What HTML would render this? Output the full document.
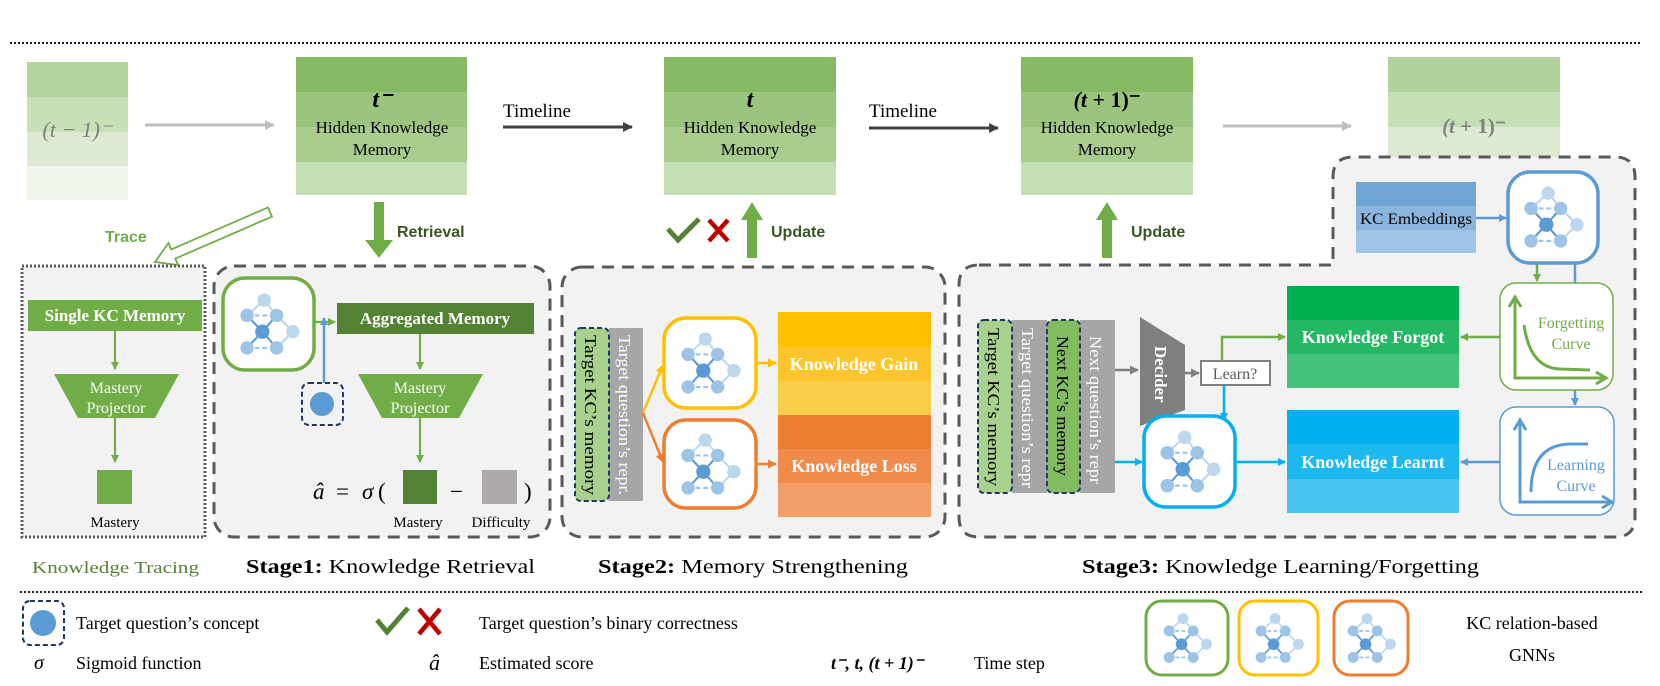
<!DOCTYPE html>
<html><head><meta charset="utf-8"><style>
html,body{margin:0;padding:0;background:#fff;}
svg{display:block;}
text{font-family:"Liberation Serif",serif;}
.sans{font-family:"Liberation Sans",sans-serif;font-weight:bold;}
</style></head><body>
<svg width="1660" height="686" viewBox="0 0 1660 686" xmlns="http://www.w3.org/2000/svg">
<defs>
<marker id="mg" markerWidth="8" markerHeight="8" refX="7" refY="4" orient="auto" markerUnits="userSpaceOnUse"><path d="M0,0 L8,4 L0,8 Z" fill="#70ad47"/></marker>
<marker id="mb" markerWidth="8" markerHeight="8" refX="7" refY="4" orient="auto" markerUnits="userSpaceOnUse"><path d="M0,0 L8,4 L0,8 Z" fill="#5b9bd5"/></marker>
<marker id="mc" markerWidth="8" markerHeight="8" refX="7" refY="4" orient="auto" markerUnits="userSpaceOnUse"><path d="M0,0 L8,4 L0,8 Z" fill="#00b0f0"/></marker>
<marker id="my" markerWidth="9" markerHeight="9" refX="8" refY="4.5" orient="auto" markerUnits="userSpaceOnUse"><path d="M0,0 L9,4.5 L0,9 Z" fill="#ffc000"/></marker>
<marker id="mo" markerWidth="9" markerHeight="9" refX="8" refY="4.5" orient="auto" markerUnits="userSpaceOnUse"><path d="M0,0 L9,4.5 L0,9 Z" fill="#ed7d31"/></marker>
<marker id="md" markerWidth="10" markerHeight="10" refX="9" refY="5" orient="auto" markerUnits="userSpaceOnUse"><path d="M0,0 L10,5 L0,10 Z" fill="#404040"/></marker>
<marker id="ml" markerWidth="10" markerHeight="10" refX="9" refY="5" orient="auto" markerUnits="userSpaceOnUse"><path d="M0,0 L10,5 L0,10 Z" fill="#bfbfbf"/></marker>
<marker id="mgr" markerWidth="9" markerHeight="9" refX="8" refY="4.5" orient="auto" markerUnits="userSpaceOnUse"><path d="M0,0 L9,4.5 L0,9 Z" fill="#7f7f7f"/></marker>
<symbol id="g" viewBox="0 0 90 90">
<g stroke-width="2.2">
<line x1="40" y1="20" x2="22" y2="36" stroke="#bdd7ee"/>
<line x1="40" y1="20" x2="53" y2="36" stroke="#bdd7ee"/>
<line x1="53" y1="36" x2="70" y2="53" stroke="#bdd7ee"/>
<line x1="70" y1="53" x2="53" y2="70" stroke="#bdd7ee"/>
<line x1="22" y1="36" x2="53" y2="36" stroke="#9dc3e6" stroke-dasharray="5 3"/>
<line x1="22" y1="70" x2="53" y2="70" stroke="#9dc3e6" stroke-dasharray="5 3"/>
<line x1="22" y1="36" x2="38" y2="53" stroke="#5b9bd5"/>
<line x1="53" y1="36" x2="38" y2="53" stroke="#5b9bd5"/>
<line x1="22" y1="70" x2="38" y2="53" stroke="#5b9bd5"/>
<line x1="53" y1="70" x2="38" y2="53" stroke="#5b9bd5"/>
</g>
<circle cx="40" cy="20" r="7" fill="#bdd7ee"/>
<circle cx="70" cy="53" r="7" fill="#bdd7ee"/>
<circle cx="22" cy="36" r="7" fill="#9dc3e6"/>
<circle cx="53" cy="36" r="7" fill="#9dc3e6"/>
<circle cx="22" cy="70" r="7" fill="#9dc3e6"/>
<circle cx="53" cy="70" r="7" fill="#9dc3e6"/>
<circle cx="38" cy="53" r="7.5" fill="#5b9bd5"/>
</symbol>
</defs>

<!-- dotted lines -->
<line x1="10" y1="43" x2="1640" y2="43" stroke="#222" stroke-width="2" stroke-dasharray="2 2"/>
<line x1="20" y1="592" x2="1643" y2="592" stroke="#222" stroke-width="2" stroke-dasharray="2 2"/>

<!-- top row -->
<rect x="27" y="62" width="101" height="35" fill="#b2d39c"/>
<rect x="27" y="97" width="101" height="35" fill="#c8e0b7"/>
<rect x="27" y="132" width="101" height="34" fill="#dde9d3"/>
<rect x="27" y="166" width="101" height="34" fill="#f0f6eb"/>
<text x="77" y="137" font-size="22" fill="#808080" text-anchor="middle" font-style="italic">(t − 1)⁻</text>
<line x1="145" y1="125" x2="274" y2="125" stroke="#bfbfbf" stroke-width="3" marker-end="url(#ml)"/>

<g>
<rect x="296" y="57" width="171" height="35" fill="#86b963"/>
<rect x="296" y="92" width="171" height="35" fill="#9bc57e"/>
<rect x="296" y="127" width="171" height="35" fill="#a9cd8f"/>
<rect x="296" y="162" width="171" height="33" fill="#c5dfb5"/>
<text x="382" y="107" font-size="24" font-weight="bold" font-style="italic" text-anchor="middle">t⁻</text>
<text x="382" y="133" font-size="17" text-anchor="middle">Hidden Knowledge</text>
<text x="382" y="155" font-size="17" text-anchor="middle">Memory</text>
</g>
<line x1="503" y1="127" x2="632" y2="127" stroke="#404040" stroke-width="3" marker-end="url(#md)"/>
<text x="503" y="117" font-size="19">Timeline</text>

<g>
<rect x="664" y="57" width="172" height="35" fill="#86b963"/>
<rect x="664" y="92" width="172" height="35" fill="#9bc57e"/>
<rect x="664" y="127" width="172" height="35" fill="#a9cd8f"/>
<rect x="664" y="162" width="172" height="33" fill="#c5dfb5"/>
<text x="750" y="107" font-size="24" font-weight="bold" font-style="italic" text-anchor="middle">t</text>
<text x="750" y="133" font-size="17" text-anchor="middle">Hidden Knowledge</text>
<text x="750" y="155" font-size="17" text-anchor="middle">Memory</text>
</g>
<line x1="869" y1="128" x2="998" y2="128" stroke="#404040" stroke-width="3" marker-end="url(#md)"/>
<text x="869" y="117" font-size="19">Timeline</text>

<g>
<rect x="1021" y="57" width="172" height="35" fill="#86b963"/>
<rect x="1021" y="92" width="172" height="35" fill="#9bc57e"/>
<rect x="1021" y="127" width="172" height="35" fill="#a9cd8f"/>
<rect x="1021" y="162" width="172" height="33" fill="#c5dfb5"/>
<text x="1107" y="107" font-size="22" font-weight="bold" text-anchor="middle"><tspan font-style="italic">(t</tspan> + 1)⁻</text>
<text x="1107" y="133" font-size="17" text-anchor="middle">Hidden Knowledge</text>
<text x="1107" y="155" font-size="17" text-anchor="middle">Memory</text>
</g>
<line x1="1223" y1="126" x2="1351" y2="126" stroke="#bfbfbf" stroke-width="3" marker-end="url(#ml)"/>
<rect x="1388" y="57" width="172" height="35" fill="#b1d29b"/>
<rect x="1388" y="92" width="172" height="35" fill="#c5dfb6"/>
<rect x="1388" y="127" width="172" height="35" fill="#dde9d2"/>
<text x="1474" y="133" font-size="21" font-weight="bold" fill="#808080" text-anchor="middle"><tspan font-style="italic">(t</tspan> + 1)⁻</text>

<!-- trace arrow -->
<polygon points="272,216.6 175.3,258.6 178.1,265 155,262 168.5,243 171.3,249.4 268,207.4" fill="#fff" stroke="#70ad47" stroke-width="1.8"/>
<text x="105" y="242" class="sans" font-size="16" fill="#70ad47">Trace</text>

<!-- retrieval arrow -->
<polygon points="374,202 384,202 384,240 393,240 379,258 365,240 374,240" fill="#70ad47"/>
<text x="397" y="237" class="sans" font-size="16" fill="#375623">Retrieval</text>

<!-- update 1 -->
<polygon points="747,258 757,258 757,220 763,220 752,202 741,220 747,220" fill="#70ad47"/>
<text x="771" y="237" class="sans" font-size="16" fill="#375623">Update</text>
<path d="M668,229 L678,240 L699,219" fill="none" stroke="#548235" stroke-width="5"/>
<path d="M709,220 L728,241 M728,220 L709,241" stroke="#c00000" stroke-width="4.5"/>

<!-- update 2 -->
<polygon points="1102,258 1112,258 1112,220 1118,220 1107,202 1096,220 1102,220" fill="#70ad47"/>
<text x="1131" y="237" class="sans" font-size="16" fill="#375623">Update</text>

<!-- KT box -->
<rect x="22" y="266" width="183" height="271" fill="#f2f2f2" stroke="#595959" stroke-width="3" stroke-dasharray="2 2"/>
<rect x="28" y="300" width="174" height="31" fill="#70ad47"/>
<text x="115" y="321" font-size="17" font-weight="bold" fill="#fff" text-anchor="middle">Single KC Memory</text>
<line x1="115" y1="331" x2="115" y2="369" stroke="#70ad47" stroke-width="2.2" marker-end="url(#mg)"/>
<polygon points="54,374 179,374 155,418 78,418" fill="#70ad47"/>
<text x="116" y="393" font-size="16" fill="#fff" text-anchor="middle">Mastery</text>
<text x="116" y="413" font-size="16" fill="#fff" text-anchor="middle">Projector</text>
<line x1="115" y1="418" x2="115" y2="462" stroke="#70ad47" stroke-width="2.2" marker-end="url(#mg)"/>
<rect x="97" y="470" width="35" height="34" fill="#70ad47"/>
<text x="115" y="527" font-size="15" text-anchor="middle">Mastery</text>
<text x="32" y="573" font-size="17" fill="#548235" textLength="167" lengthAdjust="spacingAndGlyphs">Knowledge Tracing</text>

<!-- Stage1 -->
<rect x="214" y="266" width="336" height="271" rx="20" fill="#f2f2f2" stroke="#595959" stroke-width="3" stroke-dasharray="12 8"/>
<rect x="223" y="278" width="91" height="92" rx="22" fill="#fff" stroke="#70ad47" stroke-width="3.5"/>
<use href="#g" x="226" y="280" width="86" height="88"/>
<line x1="314" y1="322" x2="335" y2="322" stroke="#70ad47" stroke-width="2.2" marker-end="url(#mg)"/>
<rect x="337" y="303" width="197" height="31" fill="#548235"/>
<text x="435" y="324" font-size="17" font-weight="bold" fill="#fff" text-anchor="middle">Aggregated Memory</text>
<line x1="324" y1="383" x2="324" y2="318" stroke="#5b9bd5" stroke-width="2.5" marker-end="url(#mb)"/>
<rect x="302" y="383" width="41" height="42" rx="7" fill="#f2f2f2" stroke="#1f3864" stroke-width="2" stroke-dasharray="5 3"/>
<circle cx="322" cy="404" r="12" fill="#5b9bd5"/>
<line x1="420" y1="334" x2="420" y2="369" stroke="#70ad47" stroke-width="2.2" marker-end="url(#mg)"/>
<polygon points="358,374 483,374 459,418 382,418" fill="#70ad47"/>
<text x="420" y="393" font-size="16" fill="#fff" text-anchor="middle">Mastery</text>
<text x="420" y="413" font-size="16" fill="#fff" text-anchor="middle">Projector</text>
<line x1="420" y1="418" x2="420" y2="462" stroke="#70ad47" stroke-width="2.2" marker-end="url(#mg)"/>
<text x="313" y="499" font-size="23" font-style="italic">â</text>
<text x="336" y="499" font-size="23">=</text>
<text x="362" y="499" font-size="23" font-style="italic">σ</text>
<text x="378" y="499" font-size="23">(</text>
<rect x="403" y="470" width="34" height="34" fill="#548235"/>
<text x="450" y="499" font-size="23">−</text>
<rect x="482" y="470" width="35" height="34" fill="#aeaaaa"/>
<text x="524" y="499" font-size="23">)</text>
<text x="418" y="527" font-size="15" text-anchor="middle">Mastery</text>
<text x="501" y="527" font-size="15" text-anchor="middle">Difficulty</text>
<text x="246" y="573" font-size="20" textLength="289" lengthAdjust="spacingAndGlyphs"><tspan font-weight="bold">Stage1:</tspan> Knowledge Retrieval</text>

<!-- Stage2 -->
<rect x="562" y="267" width="383" height="270" rx="20" fill="#f2f2f2" stroke="#595959" stroke-width="3" stroke-dasharray="12 8"/>
<rect x="609" y="328" width="34" height="173" fill="#a6a6a6"/>
<rect x="575" y="328" width="34" height="173" rx="6" fill="#a9d18e" stroke="#1f3864" stroke-width="2" stroke-dasharray="5 3"/>
<text transform="translate(585,335) rotate(90)" font-size="17" textLength="160" lengthAdjust="spacingAndGlyphs">Target KC’s memory</text>
<text transform="translate(619,335) rotate(90)" font-size="17" fill="#fff" textLength="160" lengthAdjust="spacingAndGlyphs">Target question’s repr.</text>
<line x1="643" y1="413" x2="663" y2="365" stroke="#ffc000" stroke-width="2.5" marker-end="url(#my)"/>
<line x1="643" y1="413" x2="663" y2="462" stroke="#ed7d31" stroke-width="2.5" marker-end="url(#mo)"/>
<rect x="664" y="318" width="92" height="90" rx="22" fill="#fff" stroke="#ffc000" stroke-width="3.5"/>
<use href="#g" x="667" y="320" width="86" height="86"/>
<rect x="664" y="420" width="92" height="88" rx="22" fill="#fff" stroke="#ed7d31" stroke-width="3.5"/>
<use href="#g" x="667" y="421" width="86" height="86"/>
<line x1="756" y1="363" x2="776" y2="363" stroke="#ffc000" stroke-width="2.5" marker-end="url(#my)"/>
<line x1="756" y1="464" x2="776" y2="464" stroke="#ed7d31" stroke-width="2.5" marker-end="url(#mo)"/>
<rect x="778" y="312" width="153" height="35" fill="#ffc000"/>
<rect x="778" y="347" width="153" height="34" fill="#fcc52c"/>
<rect x="778" y="381" width="153" height="34" fill="#f9ce4a"/>
<rect x="778" y="415" width="153" height="34" fill="#ed7d31"/>
<rect x="778" y="449" width="153" height="34" fill="#ef8c4c"/>
<rect x="778" y="483" width="153" height="34" fill="#f0a068"/>
<text x="854" y="370" font-size="18" font-weight="bold" fill="#fff" text-anchor="middle">Knowledge Gain</text>
<text x="854" y="472" font-size="18" font-weight="bold" fill="#fff" text-anchor="middle">Knowledge Loss</text>
<text x="598" y="573" font-size="20" textLength="310" lengthAdjust="spacingAndGlyphs"><tspan font-weight="bold">Stage2:</tspan> Memory Strengthening</text>

<!-- Stage3 -->
<path d="M979,265 L1333,265 L1333,177 Q1333,157 1353,157 L1615,157 Q1635,157 1635,177 L1635,517 Q1635,537 1615,537 L979,537 Q959,537 959,517 L959,285 Q959,265 979,265 Z" fill="#f2f2f2" stroke="#595959" stroke-width="3" stroke-dasharray="12 8"/>
<rect x="1356" y="182" width="120" height="24" fill="#70a6d6"/>
<rect x="1356" y="206" width="120" height="24" fill="#8ab5df"/>
<rect x="1356" y="230" width="120" height="23" fill="#9dc3e6"/>
<text x="1416" y="224" font-size="16" text-anchor="middle" textLength="112" lengthAdjust="spacingAndGlyphs">KC Embeddings</text>
<line x1="1476" y1="218" x2="1506" y2="218" stroke="#5b9bd5" stroke-width="2.5" marker-end="url(#mb)"/>
<line x1="1575" y1="263" x2="1575" y2="405" stroke="#5b9bd5" stroke-width="2.5" marker-end="url(#mb)"/>
<line x1="1537" y1="263" x2="1537" y2="281" stroke="#70ad47" stroke-width="2.5" marker-end="url(#mg)"/>
<rect x="1508" y="172" width="90" height="91" rx="22" fill="#fff" stroke="#5b9bd5" stroke-width="3.5"/>
<use href="#g" x="1510" y="174" width="86" height="86"/>

<rect x="1500" y="283" width="113" height="107" rx="16" fill="#fff" stroke="#70ad47" stroke-width="1.5"/>
<path d="M1515,298 L1515,378 L1604,378" fill="none" stroke="#70ad47" stroke-width="3"/>
<path d="M1509,307 L1515,297 L1521,307 M1596,372 L1606,378 L1596,384" fill="none" stroke="#70ad47" stroke-width="3"/>
<path d="M1524,325 Q1530,368 1560,369 L1590,370" fill="none" stroke="#70ad47" stroke-width="3"/>
<text x="1571" y="328" font-size="16" fill="#70ad47" text-anchor="middle">Forgetting</text>
<text x="1571" y="349" font-size="16" fill="#70ad47" text-anchor="middle">Curve</text>

<rect x="1500" y="407" width="114" height="108" rx="16" fill="#fff" stroke="#5b9bd5" stroke-width="1.5"/>
<path d="M1520,420 L1520,502 L1610,502" fill="none" stroke="#5b9bd5" stroke-width="3"/>
<path d="M1514,430 L1520,420 L1526,430 M1602,496 L1612,502 L1602,508" fill="none" stroke="#5b9bd5" stroke-width="3"/>
<path d="M1531,492 Q1531,445 1570,444 L1588,444" fill="none" stroke="#5b9bd5" stroke-width="3"/>
<text x="1576" y="470" font-size="16" fill="#5b9bd5" text-anchor="middle">Learning</text>
<text x="1576" y="491" font-size="16" fill="#5b9bd5" text-anchor="middle">Curve</text>

<line x1="1500" y1="337" x2="1461" y2="337" stroke="#70ad47" stroke-width="2.5" marker-end="url(#mg)"/>
<line x1="1500" y1="462" x2="1461" y2="462" stroke="#5b9bd5" stroke-width="2.5" marker-end="url(#mb)"/>

<rect x="1287" y="286" width="172" height="34" fill="#00b050"/>
<rect x="1287" y="320" width="172" height="34" fill="#24b865"/>
<rect x="1287" y="354" width="172" height="34" fill="#47c27d"/>
<text x="1373" y="343" font-size="18" font-weight="bold" fill="#fff" text-anchor="middle">Knowledge Forgot</text>
<rect x="1287" y="410" width="172" height="34" fill="#00b0f0"/>
<rect x="1287" y="444" width="172" height="35" fill="#1db8ef"/>
<rect x="1287" y="479" width="172" height="34" fill="#46c3ef"/>
<text x="1373" y="468" font-size="18" font-weight="bold" fill="#fff" text-anchor="middle">Knowledge Learnt</text>

<rect x="1012" y="320" width="35" height="173" fill="#a6a6a6"/>
<rect x="1080" y="320" width="35" height="173" fill="#a6a6a6"/>
<rect x="978" y="320" width="34" height="173" rx="6" fill="#a9d18e" stroke="#1f3864" stroke-width="2" stroke-dasharray="5 3"/>
<rect x="1047" y="320" width="33" height="173" rx="6" fill="#83bb63" stroke="#1f3864" stroke-width="2" stroke-dasharray="5 3"/>
<text transform="translate(988,328) rotate(90)" font-size="17" textLength="158" lengthAdjust="spacingAndGlyphs">Target KC’s memory</text>
<text transform="translate(1022,328) rotate(90)" font-size="17" fill="#fff" textLength="160" lengthAdjust="spacingAndGlyphs">Target question’s repr</text>
<text transform="translate(1057,336) rotate(90)" font-size="17" textLength="140" lengthAdjust="spacingAndGlyphs">Next KC’s memory</text>
<text transform="translate(1090,336) rotate(90)" font-size="17" fill="#fff" textLength="148" lengthAdjust="spacingAndGlyphs">Next question’s repr</text>

<line x1="1115" y1="370" x2="1138" y2="370" stroke="#7f7f7f" stroke-width="2.5" marker-end="url(#mgr)"/>
<polygon points="1140,317 1185,345 1185,410 1140,426" fill="#7f7f7f"/>
<text transform="translate(1155,346) rotate(90)" font-size="17" font-weight="bold" fill="#fff">Decider</text>
<line x1="1185" y1="373" x2="1199" y2="373" stroke="#7f7f7f" stroke-width="2.5" marker-end="url(#mgr)"/>
<rect x="1201" y="361" width="69" height="24" fill="#fff" stroke="#7f7f7f" stroke-width="2"/>
<text x="1235" y="379" font-size="16" fill="#595959" text-anchor="middle">Learn?</text>
<path d="M1222,361 L1222,337 L1285,337" fill="none" stroke="#70ad47" stroke-width="2.5" marker-end="url(#mg)"/>
<line x1="1224" y1="385" x2="1224" y2="420" stroke="#00b0f0" stroke-width="2.5" marker-end="url(#mc)"/>
<line x1="1115" y1="462" x2="1142" y2="462" stroke="#00b0f0" stroke-width="2.5" marker-end="url(#mc)"/>
<rect x="1144" y="416" width="91" height="91" rx="22" fill="#fff" stroke="#00b0f0" stroke-width="3.5"/>
<use href="#g" x="1146" y="418" width="87" height="87"/>
<line x1="1235" y1="462" x2="1285" y2="462" stroke="#00b0f0" stroke-width="2.5" marker-end="url(#mc)"/>
<text x="1082" y="573" font-size="20" textLength="397" lengthAdjust="spacingAndGlyphs"><tspan font-weight="bold">Stage3:</tspan> Knowledge Learning/Forgetting</text>

<!-- legend -->
<rect x="23" y="601" width="41" height="44" rx="7" fill="#fff" stroke="#1f3864" stroke-width="2" stroke-dasharray="5 3"/>
<circle cx="43" cy="623" r="13" fill="#5b9bd5"/>
<text x="76" y="629" font-size="18">Target question’s concept</text>
<text x="34" y="669" font-size="20" font-style="italic">σ</text>
<text x="76" y="669" font-size="18">Sigmoid function</text>
<path d="M377,620 L387,632 L408,608" fill="none" stroke="#548235" stroke-width="5"/>
<path d="M419,609 L440,634 M440,609 L419,634" stroke="#c00000" stroke-width="4.5"/>
<text x="479" y="629" font-size="18">Target question’s binary correctness</text>
<text x="429" y="670" font-size="22" font-style="italic">â</text>
<text x="479" y="669" font-size="18">Estimated score</text>
<text x="831" y="669" font-size="18" font-weight="bold" font-style="italic">t⁻, t, (t + 1)⁻</text>
<text x="974" y="669" font-size="18">Time step</text>
<rect x="1146" y="601" width="82" height="74" rx="16" fill="#fff" stroke="#70ad47" stroke-width="3"/>
<use href="#g" x="1152" y="603" width="70" height="70"/>
<rect x="1239" y="601" width="79" height="74" rx="16" fill="#fff" stroke="#ffc000" stroke-width="3"/>
<use href="#g" x="1244" y="603" width="70" height="70"/>
<rect x="1334" y="601" width="74" height="74" rx="16" fill="#fff" stroke="#ed7d31" stroke-width="3"/>
<use href="#g" x="1336" y="603" width="70" height="70"/>
<text x="1532" y="629" font-size="18" text-anchor="middle">KC relation-based</text>
<text x="1532" y="661" font-size="18" text-anchor="middle">GNNs</text>
</svg>
</body></html>
